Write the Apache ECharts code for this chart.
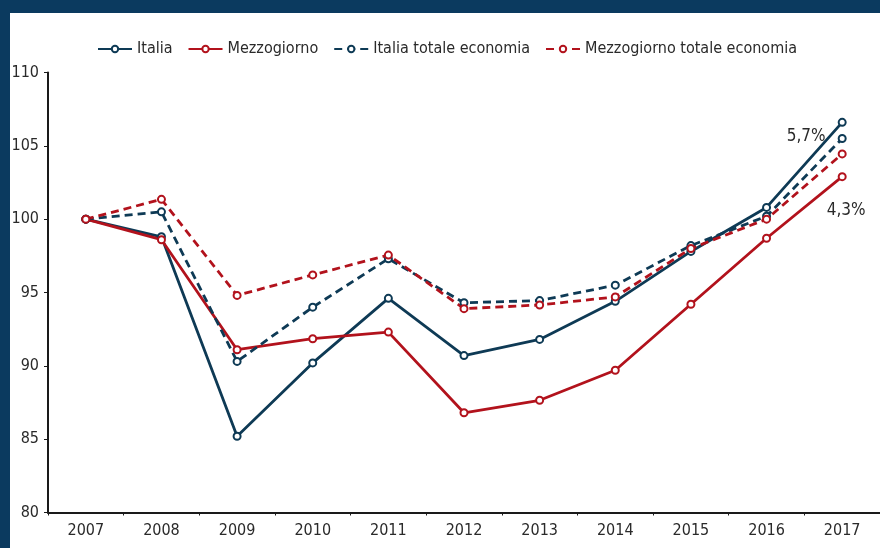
<!DOCTYPE html>
<html>
<head>
<meta charset="utf-8">
<script src="https://cdn.jsdelivr.net/npm/echarts@6/dist/echarts.min.js"></script>
<style>
  html, body { margin: 0; padding: 0; background: #fff; }
  #chart { width: 880px; height: 548px; }
</style>
</head>
<body>
<div id="chart"></div>
<script>
// anni e indici (2007 = 100)
const years = ["2007", "2008", "2009", "2010", "2011", "2012", "2013", "2014", "2015", "2016", "2017"];
const italia = [100, 98.8, 85.2, 90.2, 94.6, 90.7, 91.8, 94.4, 97.8, 100.8, 106.6];
const mezzogiorno = [100, 98.6, 91.1, 91.85, 92.3, 86.8, 87.65, 89.7, 94.2, 98.7, 102.9];
const italiaTot = [100, 100.5, 90.3, 94.0, 97.3, 94.3, 94.45, 95.5, 98.2, 100.2, 105.5];
const mezzTot = [100, 101.35, 94.8, 96.2, 97.55, 93.9, 94.15, 94.7, 98.0, 100.0, 104.45];
const yTicks = { min: 80, max: 110, step: 5 };
const endLabels = ["5,7%", "4,3%"];

const BLUE = "#0e3a55";
const RED = "#b2121c";
const FRAME = "#0b3a5f";
const FONT = "'DejaVu Sans Condensed', 'Liberation Sans Narrow', sans-serif";

function withEndLabel(values, text, offset) {
    return values.map((v, i) => {
        if (i !== values.length - 1) return v;
        return {
            value: v,
            label: {
                show: true,
                position: "inside",
                offset: offset,
                formatter: text,
                color: "#2a2a2a",
                fontSize: 17,
                fontFamily: FONT,
            },
        };
    });
}

function lineSeries(name, data, color, dashed) {
    return {
        name: name,
        type: "line",
        data: data,
        symbol: "emptyCircle",
        symbolSize: 7,
        showAllSymbol: true,
        lineStyle: { color: color, width: 2.8, type: dashed ? [8, 5] : "solid" },
        itemStyle: { color: color, borderColor: color, borderWidth: 1.1 },
        emphasis: { disabled: true },
        animation: false,
    };
}

const chart = echarts.init(document.getElementById("chart"));
chart.setOption({
    animation: false,
    textStyle: { fontFamily: FONT },
    graphic: [
        { type: "rect", left: 0, top: 0, shape: { width: 880, height: 13 }, style: { fill: FRAME }, z: 100 },
        { type: "rect", left: 0, top: 0, shape: { width: 10, height: 548 }, style: { fill: FRAME }, z: 100 },
    ],
    legend: {
        top: 36,
        left: 92,
        itemWidth: 34,
        itemHeight: 8,
        itemGap: 15,
        textStyle: { color: "#2a2a2a", fontSize: 16, fontFamily: FONT },
        data: ["Italia", "Mezzogiorno", "Italia totale economia", "Mezzogiorno totale economia"],
    },
    grid: { left: 48, top: 72.5, right: -11, bottom: 35.5, containLabel: false },
    xAxis: {
        type: "category",
        data: years,
        boundaryGap: true,
        axisLine: { lineStyle: { color: "#1a1a1a", width: 2 } },
        axisTick: { show: true, length: 3, lineStyle: { color: "#1a1a1a" } },
        axisLabel: { color: "#2a2a2a", fontSize: 16, margin: 10, fontFamily: FONT },
        splitLine: { show: false },
    },
    yAxis: {
        type: "value",
        min: yTicks.min,
        max: yTicks.max,
        interval: yTicks.step,
        axisLine: { show: true, lineStyle: { color: "#1a1a1a", width: 2 } },
        axisTick: { show: true, length: 4, lineStyle: { color: "#1a1a1a" } },
        axisLabel: { color: "#2a2a2a", fontSize: 16, margin: 9, fontFamily: FONT },
        splitLine: { show: false },
    },
    series: [
        lineSeries("Italia", withEndLabel(italia, endLabels[0], [-36, 14]), BLUE, false),
        lineSeries("Mezzogiorno", withEndLabel(mezzogiorno, endLabels[1], [4, 34]), RED, false),
        lineSeries("Italia totale economia", italiaTot, BLUE, true),
        lineSeries("Mezzogiorno totale economia", mezzTot, RED, true),
    ],
});
</script>
</body>
</html>
